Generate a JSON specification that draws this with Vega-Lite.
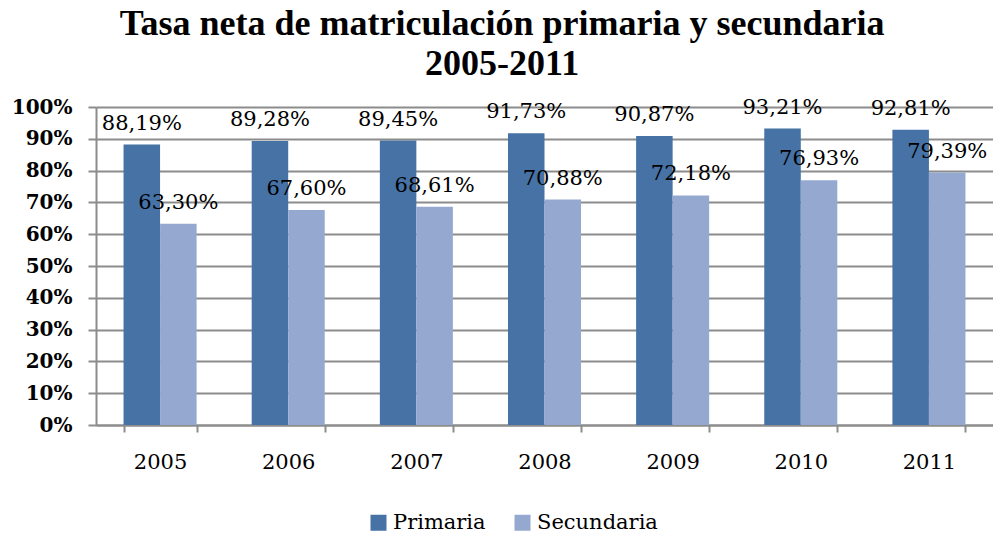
{
  "$schema": "https://vega.github.io/schema/vega-lite/v6.json",
  "width": 897,
  "height": 318,
  "autosize": {"type": "none"},
  "padding": {"left": 96, "top": 107, "right": 0, "bottom": 108},
  "background": "white",
  "title": {
    "text": ["Tasa neta de matriculación primaria y secundaria", "2005-2011"],
    "font": "Liberation Serif",
    "fontWeight": "bold",
    "fontSize": 36,
    "lineHeight": 40,
    "color": "#000000",
    "anchor": "middle",
    "frame": "bounds",
    "offset": 14
  },
  "data": {
    "values": [
      {"year": "2005", "serie": "Primaria", "value": 0.8819, "label": "88,19%"},
      {"year": "2005", "serie": "Secundaria", "value": 0.6330, "label": "63,30%"},
      {"year": "2006", "serie": "Primaria", "value": 0.8928, "label": "89,28%"},
      {"year": "2006", "serie": "Secundaria", "value": 0.6760, "label": "67,60%"},
      {"year": "2007", "serie": "Primaria", "value": 0.8945, "label": "89,45%"},
      {"year": "2007", "serie": "Secundaria", "value": 0.6861, "label": "68,61%"},
      {"year": "2008", "serie": "Primaria", "value": 0.9173, "label": "91,73%"},
      {"year": "2008", "serie": "Secundaria", "value": 0.7088, "label": "70,88%"},
      {"year": "2009", "serie": "Primaria", "value": 0.9087, "label": "90,87%"},
      {"year": "2009", "serie": "Secundaria", "value": 0.7218, "label": "72,18%"},
      {"year": "2010", "serie": "Primaria", "value": 0.9321, "label": "93,21%"},
      {"year": "2010", "serie": "Secundaria", "value": 0.7693, "label": "76,93%"},
      {"year": "2011", "serie": "Primaria", "value": 0.9281, "label": "92,81%"},
      {"year": "2011", "serie": "Secundaria", "value": 0.7939, "label": "79,39%"}
    ]
  },
  "encoding": {
    "x": {
      "field": "year",
      "type": "nominal",
      "scale": {"paddingInner": 0.43, "paddingOuter": 0.215},
      "axis": {
        "title": null,
        "labelAngle": 0,
        "labelFont": "DejaVu Serif",
        "labelFontSize": 21,
        "labelColor": "#000000",
        "labelBaseline": "top",
        "labelPadding": 19,
        "tickBand": "extent",
        "tickSize": 7,
        "tickColor": "#8c8c8c",
        "tickWidth": 2,
        "domainColor": "#8c8c8c",
        "domainWidth": 2,
        "grid": false
      }
    },
    "xOffset": {"field": "serie", "type": "nominal", "sort": ["Primaria", "Secundaria"], "scale": {"paddingInner": 0}},
    "y": {
      "field": "value",
      "type": "quantitative",
      "scale": {"domain": [0, 1], "nice": false},
      "axis": {
        "title": null,
        "format": ".0%",
        "values": [0, 0.1, 0.2, 0.3, 0.4, 0.5, 0.6, 0.7, 0.8, 0.9, 1],
        "labelFont": "DejaVu Serif",
        "labelFontWeight": "bold",
        "labelFontSize": 20,
        "labelColor": "#000000",
        "labelPadding": 16,
        "tickSize": 8,
        "tickColor": "#8c8c8c",
        "tickWidth": 2,
        "domainColor": "#8c8c8c",
        "domainWidth": 2,
        "grid": true,
        "gridColor": "#8c8c8c",
        "gridWidth": 2
      }
    }
  },
  "layer": [
    {
      "mark": {"type": "bar"},
      "encoding": {
        "color": {
          "field": "serie",
          "type": "nominal",
          "sort": ["Primaria", "Secundaria"],
          "scale": {"domain": ["Primaria", "Secundaria"], "range": ["#4672A6", "#95A9D0"]},
          "legend": {
            "title": null,
            "orient": "none",
            "direction": "horizontal",
            "legendX": 272,
            "legendY": 405,
            "symbolType": "square",
            "symbolSize": 256,
            "symbolStrokeWidth": 0,
            "labelFont": "DejaVu Serif",
            "labelFontSize": 21,
            "labelColor": "#000000",
            "labelOffset": 4,
            "columnPadding": 26
          }
        }
      }
    },
    {
      "mark": {"type": "text", "baseline": "middle", "align": "center", "dy": -21, "font": "DejaVu Serif", "fontSize": 21, "color": "#000000"},
      "encoding": {"text": {"field": "label"}}
    }
  ]
}
